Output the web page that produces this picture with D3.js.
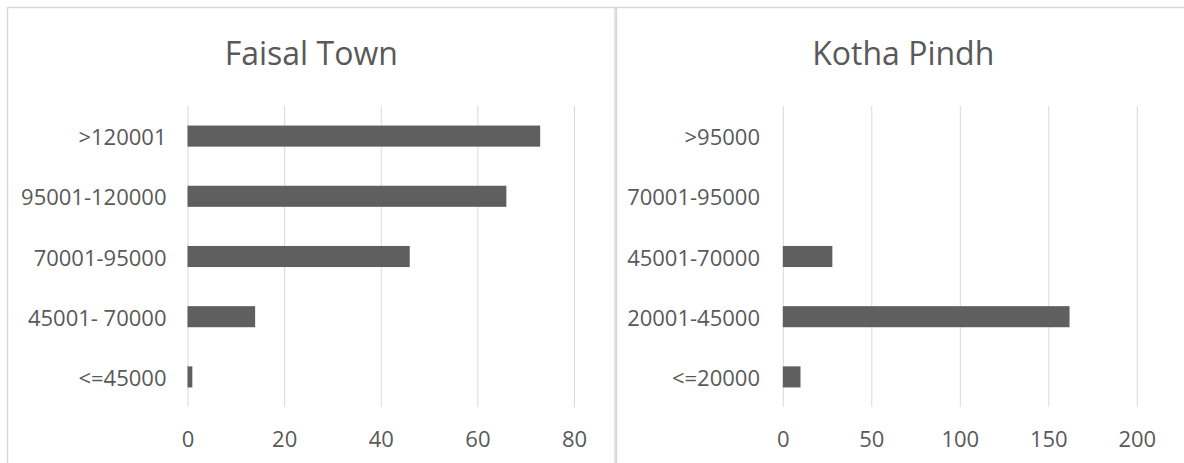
<!DOCTYPE html>
<html>
<head>
<meta charset="utf-8">
<script src="https://cdn.jsdelivr.net/npm/d3@7"></script>
<style>
  html, body { margin: 0; padding: 0; background: #ffffff; }
  svg { display: block; }
  text { font-family: "Open Sans", "Noto Sans", sans-serif; fill: #595959; }
</style>
</head>
<body>
<svg id="chart" width="1184" height="463"></svg>
<script>
// Income-band respondent counts for two localities
const faisalCategories = [">120001", "95001-120000", "70001-95000", "45001- 70000", "<=45000"];
const faisalValues     = [73, 66, 46, 14, 1];
const faisalTicks      = [0, 20, 40, 60, 80];

const kothaCategories  = [">95000", "70001-95000", "45001-70000", "20001-45000", "<=20000"];
const kothaValues      = [0, 0, 28, 162, 10];
const kothaTicks       = [0, 50, 100, 150, 200];

const svg = d3.select("#chart");

const GRID = "#d9d9d9";
const BAR = "#5f5f5f";

function drawPanel(cfg) {
  const g = svg.append("g");

  // chart-area frame (top, left, right edges; bottom runs off the page)
  g.append("path")
    .attr("d", `M${cfg.left},470 V${7.5} H${cfg.right} V470`)
    .attr("fill", "none")
    .attr("stroke", GRID)
    .attr("stroke-width", 1.5);

  // title
  g.append("text")
    .attr("x", (cfg.left + cfg.right) / 2)
    .attr("y", 52)
    .attr("text-anchor", "middle")
    .attr("dominant-baseline", "central")
    .style("font-size", "32px")
    .text(cfg.title);

  const x = d3.scaleLinear().domain([0, cfg.max]).range(cfg.xRange);
  const y = d3.scaleBand()
    .domain(cfg.categories)
    .range([106, 407])
    .paddingInner(0.65)
    .paddingOuter(0.325);

  // vertical gridlines
  const grid = g.append("g")
    .attr("transform", "translate(0,407)")
    .call(d3.axisBottom(x).tickValues(cfg.ticks).tickSize(-301).tickFormat(""));
  grid.select(".domain").remove();
  grid.selectAll("line").attr("stroke", GRID).attr("stroke-width", 1);

  // bars
  g.append("g").selectAll("rect")
    .data(cfg.values.map((v, i) => ({ cat: cfg.categories[i], v })))
    .join("rect")
    .filter(d => d.v > 0)
    .attr("x", x(0))
    .attr("y", d => y(d.cat))
    .attr("width", d => x(d.v) - x(0))
    .attr("height", y.bandwidth())
    .attr("fill", BAR);

  // value axis labels
  const xa = g.append("g")
    .attr("transform", "translate(0,437.5)")
    .call(d3.axisBottom(x).tickValues(cfg.ticks).tickSize(0).tickPadding(0).tickFormat(d3.format("d")));
  xa.select(".domain").remove();
  xa.selectAll("text")
    .attr("y", 0)
    .attr("dy", null)
    .attr("dominant-baseline", "central")
    .attr("fill", "#595959")
    .style("font-size", "22px");

  // category axis labels
  const ya = g.append("g")
    .attr("transform", `translate(${cfg.labelRight},0)`)
    .call(d3.axisLeft(y).tickSize(0).tickPadding(0));
  ya.select(".domain").remove();
  ya.selectAll("text")
    .attr("x", 0)
    .attr("dy", null)
    .attr("dominant-baseline", "central")
    .attr("fill", "#595959")
    .style("font-size", "22px");
}

drawPanel({
  title: "Faisal Town",
  left: 7.5, right: 615,
  categories: faisalCategories, values: faisalValues, ticks: faisalTicks,
  max: 80, xRange: [187.5, 574], labelRight: 166.5
});

drawPanel({
  title: "Kotha Pindh",
  left: 616.5, right: 1190,
  categories: kothaCategories, values: kothaValues, ticks: kothaTicks,
  max: 200, xRange: [782.8, 1136.8], labelRight: 760
});
</script>
</body>
</html>
